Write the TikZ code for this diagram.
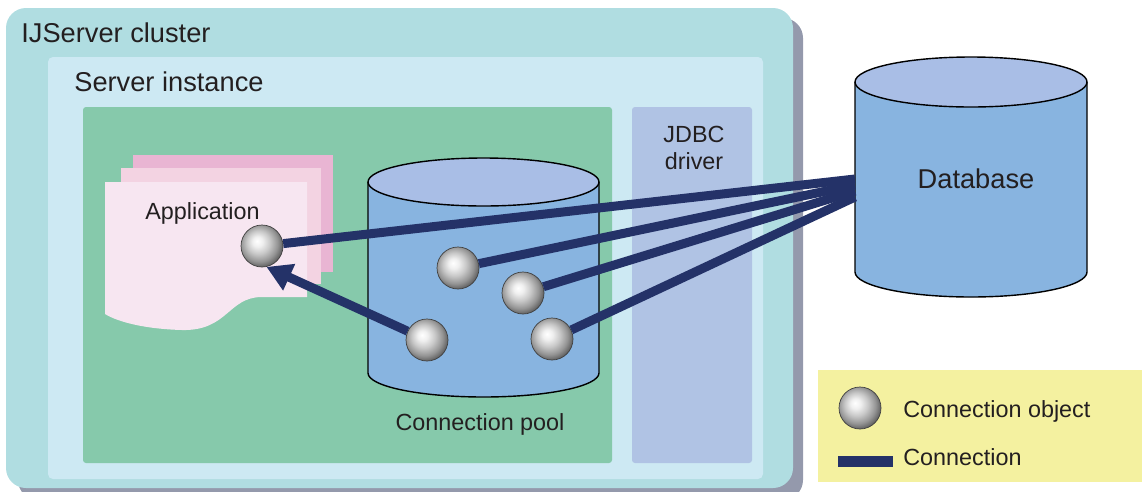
\documentclass[tikz,border=0pt]{standalone}
\usepackage{fontspec}
\setmainfont{Liberation Sans}
\usetikzlibrary{arrows.meta, positioning, calc}
\definecolor{mycluster}{HTML}{B0DDE1}
\definecolor{myshadow}{HTML}{9499AC}
\definecolor{myinstance}{HTML}{CDE9F3}
\definecolor{mygreen}{HTML}{86C9AB}
\definecolor{myjdbc}{HTML}{B0C3E4}
\definecolor{mycylside}{HTML}{88B4E0}
\definecolor{mycyltop}{HTML}{A9BEE6}
\definecolor{mynavy}{HTML}{243268}
\definecolor{myyellow}{HTML}{F4F1A0}
\definecolor{mypinkA}{HTML}{E9B5D3}
\definecolor{mypinkB}{HTML}{F3D3E2}
\definecolor{mypinkC}{HTML}{F7E6F1}
\definecolor{mytext}{HTML}{231F20}
\pgfdeclareradialshading{connball}{\pgfpoint{-6bp}{6bp}}{color(0bp)=(white); color(6bp)=(black!6); color(14bp)=(black!22); color(22bp)=(black!42); color(30bp)=(black!70); color(50bp)=(black)}

\begin{document}
\begin{tikzpicture}[x=0.02cm, y=-0.02cm,
    bigtext/.style={font=\fontsize{15.5}{18}\selectfont, text=mytext, inner sep=0},
    smalltext/.style={font=\fontsize{13.3}{16}\selectfont, text=mytext, inner sep=0},
    connobj/.style={circle, minimum size=0.84cm, inner sep=0, shading=connball, draw=black!75, thin},
    conn/.style={draw=mynavy, line width=0.18cm},
    connarrow/.style={conn, -{Triangle[length=0.5cm, width=0.55cm]}}]
    \useasboundingbox (0,0) rectangle (1142,491);
    \clip (0,0) rectangle (1142,491);

    % IJServer 集群
    \fill[myshadow, rounded corners=0.4cm] (18,18) rectangle (803,500);
    \fill[mycluster, rounded corners=0.4cm] (6,8) rectangle (793,488);
    \node[bigtext, anchor=base west] (cluster) at (21,42) {IJServer cluster};

    % 服务器实例
    \fill[myinstance, rounded corners=0.1cm] (48,57) rectangle (763,479);
    \node[bigtext, anchor=base west] (instance) at (74,91) {Server instance};
    \fill[mygreen, rounded corners=0.06cm] (83,107) rectangle (612,463);
    \fill[myjdbc, rounded corners=0.06cm] (632,107) rectangle (752,463);
    \node[smalltext, align=center, anchor=north] (jdbc) at (694,126) {JDBC\\[-1pt]driver};

    % 应用程序
    \fill[mypinkA] (133,155) rectangle (333,272);
    \fill[mypinkB] (121,168) rectangle (321,284);
    \fill[mypinkC] (105,182) -- (307,182) -- (307,297) -- (262,297)
        .. controls (228,297) and (228,331) .. (182,330)
        .. controls (145,329) and (118,322) .. (105,314) -- cycle;
    \node[smalltext, anchor=base west] (app) at (145,219) {Application};

    % 连接池
    \fill[mycylside] (368,182) -- (368,373) arc[start angle=180, end angle=0, x radius=115.5, y radius=24] -- (599,182) -- cycle;
    \draw[thick] (368,182) -- (368,373) arc[start angle=180, end angle=0, x radius=115.5, y radius=24] -- (599,182);
    \filldraw[fill=mycyltop, thick] (483.5,182) ellipse [x radius=115.5, y radius=24];
    \node[smalltext, anchor=base] (pool) at (480,430) {Connection pool};

    % 数据库
    \fill[mycylside] (855,82) -- (855,272) arc[start angle=180, end angle=0, x radius=116, y radius=25] -- (1087,82) -- cycle;
    \draw[thick] (855,82) -- (855,272) arc[start angle=180, end angle=0, x radius=116, y radius=25] -- (1087,82);
    \filldraw[fill=mycyltop, thick] (971,82) ellipse [x radius=116, y radius=25];
    \node[bigtext, anchor=base] (db) at (976,188) {Database};
    \foreach \i/\y in {1/179, 2/185, 3/191, 4/197}
        \coordinate (db\i) at (855,\y);

    % 连接对象
    \node[connobj] (c0) at (262,246) {};
    \node[connobj] (c1) at (458,268) {};
    \node[connobj] (c2) at (523,293) {};
    \node[connobj] (c3) at (427,340) {};
    \node[connobj] (c4) at (552,339) {};

    % 连接
    \draw[conn] (c0) -- (db1);
    \draw[conn] (c1) -- (db2);
    \draw[conn] (c2) -- (db3);
    \draw[conn] (c4) -- (db4);
    \draw[connarrow] (c3) -- (c0.-78);

    % 图例
    \fill[myyellow] (818,370) rectangle (1142,482);
    \node[connobj] (lgobj) at (860,408) {};
    \node[smalltext, anchor=base west] (lgobjtext) at (903,417) {Connection object};
    \coordinate (lga) at (838,461);
    \coordinate (lgb) at (893,461);
    \draw[conn, line width=0.22cm] (lga) -- (lgb);
    \node[smalltext, anchor=base west] (lgconntext) at (903,465) {Connection};
\end{tikzpicture}
\end{document}
